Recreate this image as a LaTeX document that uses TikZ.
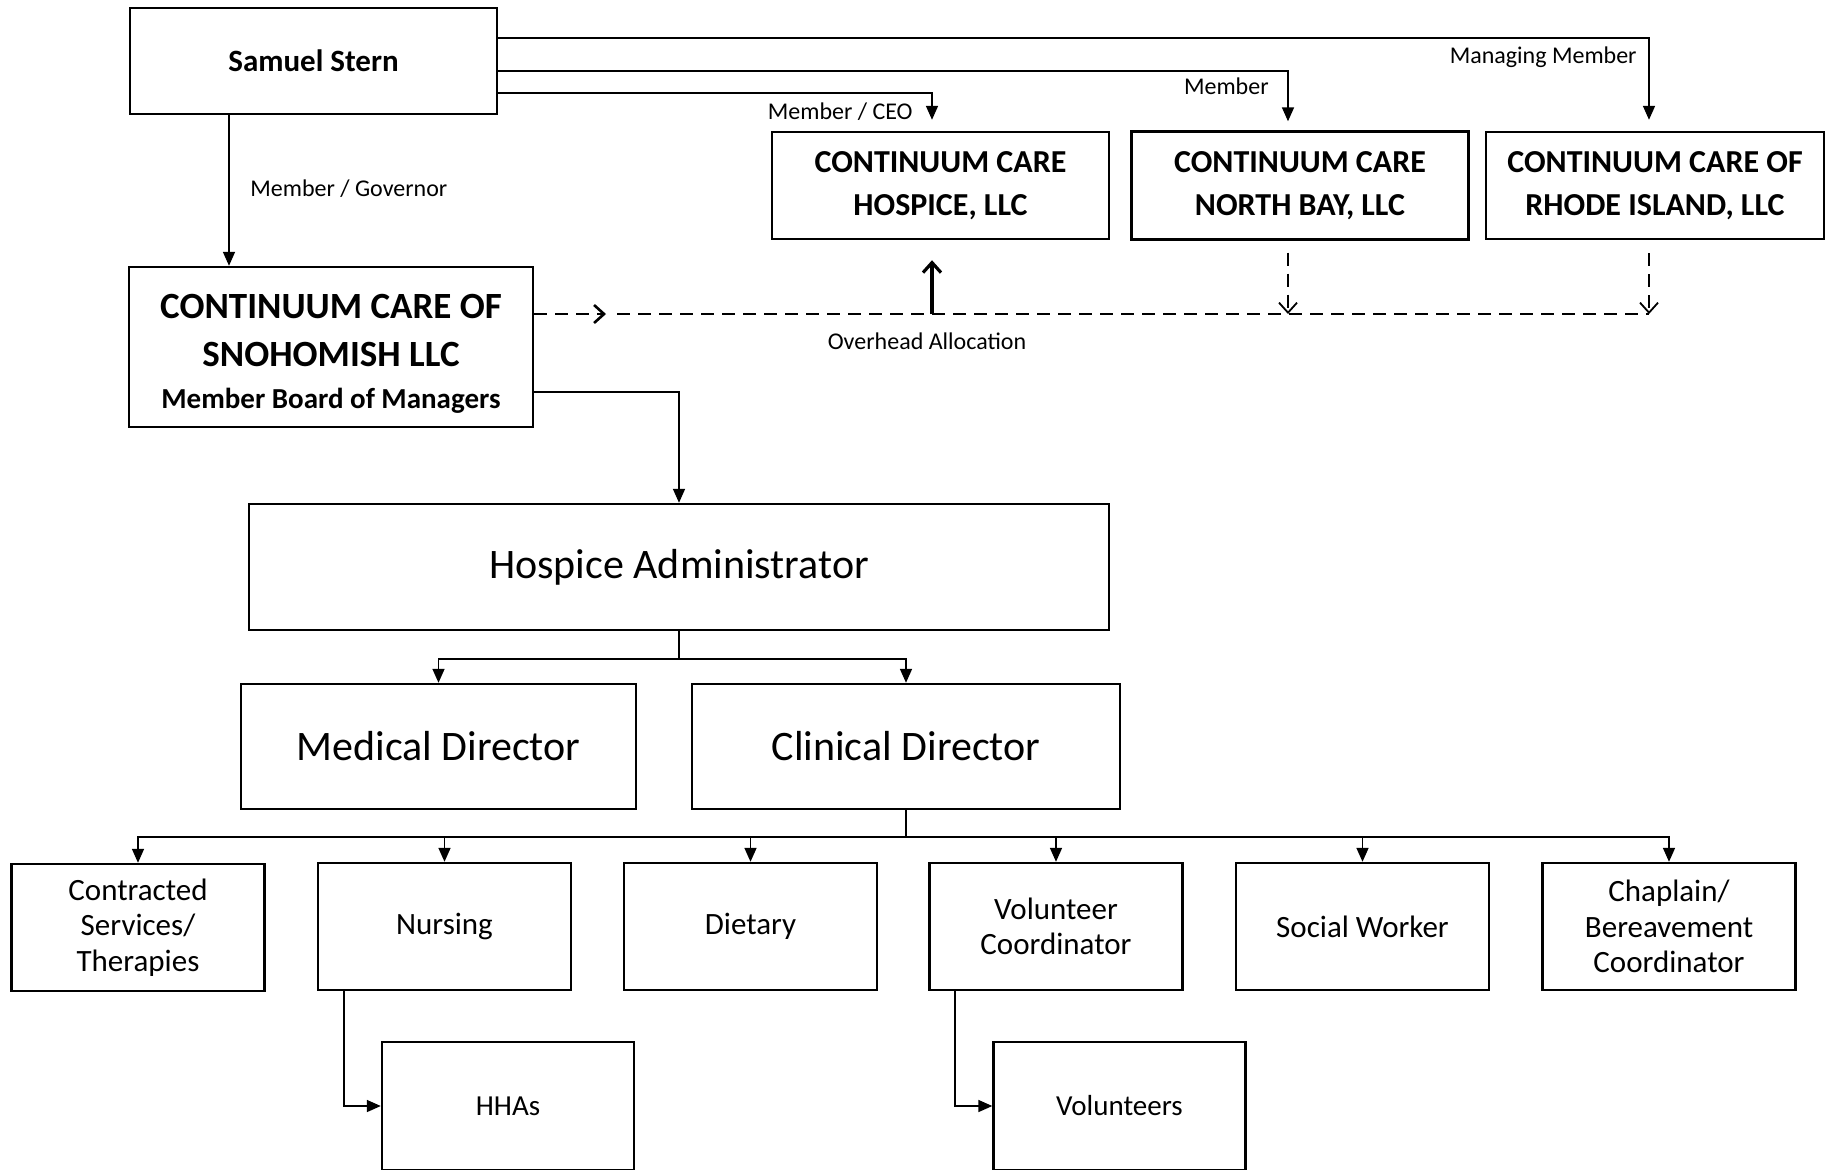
\documentclass[tikz,border=0pt]{standalone}
\usepackage{fontspec}
\setmainfont{Carlito}
\usetikzlibrary{arrows.meta,calc}
\begin{document}
\begin{tikzpicture}[x=0.5pt,y=-0.5pt,
 box/.style={draw,line width=1.2pt,inner sep=0pt,align=center,anchor=center},
 llc/.style={box,minimum width=168.5pt,minimum height=53.5pt,font=\bfseries\fontsize{16}{21.5}\selectfont},
 big/.style={box,minimum height=62.5pt,font=\fontsize{21}{25}\selectfont},
 low/.style={box,minimum width=126.5pt,minimum height=63.5pt,font=\fontsize{15.5}{17.75}\selectfont},
 sub/.style={box,minimum width=126pt,minimum height=64pt,font=\fontsize{14.5}{17}\selectfont},
 arr/.style={line width=0.8pt,-{Triangle[length=7pt,width=6pt]}},
 barb/.style={line width=1.3pt,-{Straight Barb[length=5pt,width=9pt]}},
 dsh/.style={dash pattern=on 6.5pt off 4pt},
 lbl/.style={font=\fontsize{12}{14}\selectfont,inner sep=0pt}]
\useasboundingbox (0,0) rectangle (1826,1169);

% top row
\node[box,minimum width=183.5pt,minimum height=53pt,font=\bfseries\fontsize{15.5}{18}\selectfont] (sam) at (313.5,61) {Samuel Stern};
\node[box,minimum width=202pt,minimum height=80pt,font=\bfseries\fontsize{18.5}{24}\selectfont] (sno) at (331,347)
  {\rule{0pt}{19pt}CONTINUUM CARE OF\\ SNOHOMISH LLC\\[-3pt] \fontsize{14.5}{21}\selectfont Member Board of Managers};
\node[llc] (hos) at (940.5,185.5) {CONTINUUM CARE\\ HOSPICE, LLC};
\node[llc,minimum height=54pt] (nb) at (1300,185.5) {CONTINUUM CARE\\ NORTH BAY, LLC};
\node[llc,minimum width=169pt] (ri) at (1655,185.5) {CONTINUUM CARE OF\\ RHODE ISLAND, LLC};

% management
\node[big,minimum width=430pt,minimum height=63pt] (adm) at (679,567) {Hospice Administrator};
\node[big,minimum width=197.5pt] (med) at (438.5,746.5) {Medical Director};
\node[big,minimum width=214pt] (cli) at (906,746.5) {Clinical Director};

% bottom row
\node[low] (con) at (138,927.5) {Contracted\\ Services/\\ Therapies};
\node[low] (nur) at (444.5,926.5) {Nursing};
\node[low] (die) at (750.5,926.5) {Dietary};
\node[low] (vol) at (1056,926.5) {Volunteer\\ Coordinator};
\node[low] (soc) at (1362.5,926.5) {Social Worker};
\node[low] (cha) at (1669,926.5) {Chaplain/\\ Bereavement\\ Coordinator};

\node[sub] (hha) at (508,1106) {HHAs};
\node[sub] (vols) at (1119.5,1106) {Volunteers};

% Samuel Stern connectors
\draw[arr] ([xshift=-42.25pt]sam.south) -- ([xshift=-42.25pt]sam.south |- sno.north);
\node[lbl,anchor=west] (lgov) at (250,189) {Member / Governor};
\draw[arr] ([yshift=-16pt]sam.east) -| ([xshift=-4.25pt,yshift=5.5pt]hos.north);
\draw[arr] ([yshift=-5pt]sam.east) -| ([xshift=-6pt,yshift=4.5pt]nb.north);
\draw[arr] ([yshift=11.5pt]sam.east) -| ([xshift=-3pt,yshift=5.5pt]ri.north);
\node[lbl,anchor=east] (lceo) at (913,112) {Member / CEO};
\node[lbl,anchor=east] (lmem) at (1269,86) {Member};
\node[lbl,anchor=east] (lman) at (1637,57) {Managing Member};

% overhead allocation
\coordinate (ovt) at (606,314);
\coordinate (ovl) at (617,314);
\coordinate (hx) at ([xshift=-4.25pt]hos.south);
\coordinate (nx) at ([xshift=-6pt]nb.south);
\coordinate (rx) at ([xshift=-3pt]ri.south);
\draw[dsh,barb] (sno.east |- ovt) -- (ovt);
\draw[dsh,line width=1.3pt] (ovl) -- (rx |- ovl);
\draw[barb,line width=1.6pt] (hx |- ovl) -- ([yshift=-10pt]hx);
\draw[dsh,barb,line width=0.9pt] ([yshift=-6pt]nx) -- (nx |- ovl);
\draw[dsh,barb,line width=0.9pt] ([yshift=-6.5pt]rx) -- (rx |- ovl);
\node[lbl] (lov) at (927,341) {Overhead Allocation};

% hierarchy
\draw[arr] ([yshift=-22.5pt]sno.east) -| (adm.north);
\coordinate (j1) at ([yshift=-14pt]adm.south);
\draw[line width=0.8pt] (adm.south) -- (j1);
\draw[arr] (j1) -| (med.north);
\draw[arr] (j1) -| (cli.north);
\coordinate (j2) at ([yshift=-13.5pt]cli.south);
\draw[line width=0.8pt] (cli.south) -- (j2);
\foreach \b in {con,nur,die,vol,soc,cha} \draw[arr] (j2) -| (\b.north);

\coordinate (nh) at ([xshift=-50.25pt]nur.south);
\draw[arr] (nh) |- (hha.west);
\coordinate (vh) at ([xshift=-50.5pt]vol.south);
\draw[arr] (vh) |- (vols.west);
\end{tikzpicture}
\end{document}
